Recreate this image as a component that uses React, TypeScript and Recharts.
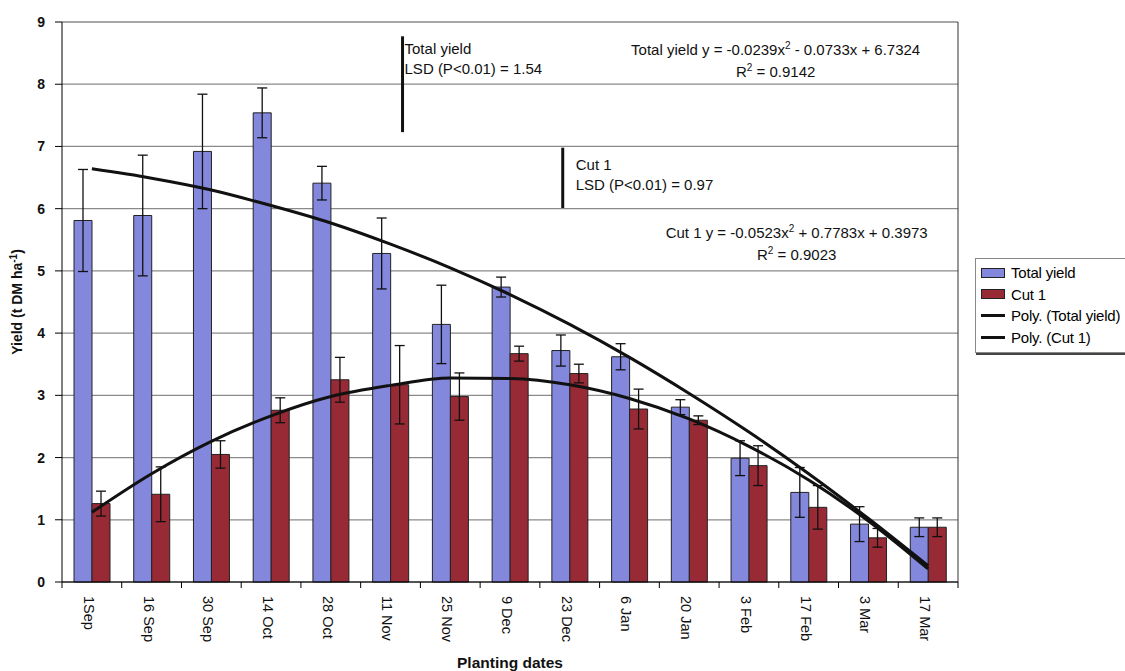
import React from 'react';
import {
  ComposedChart, Bar, Line, XAxis, YAxis, CartesianGrid, ErrorBar,
  Legend, ReferenceLine, ReferenceDot
} from 'recharts';

// planting dates and yields (t DM/ha)
const dates = ['1Sep', '16 Sep', '30 Sep', '14 Oct', '28 Oct', '11 Nov', '25 Nov', '9 Dec', '23 Dec', '6 Jan', '20 Jan', '3 Feb', '17 Feb', '3 Mar', '17 Mar'];
const totalYield = [5.81, 5.89, 6.92, 7.54, 6.41, 5.28, 4.14, 4.74, 3.72, 3.62, 2.81, 1.99, 1.44, 0.93, 0.88];
const totalErr = [0.82, 0.97, 0.92, 0.40, 0.27, 0.57, 0.63, 0.16, 0.25, 0.21, 0.12, 0.28, 0.40, 0.28, 0.15];
const cut1 = [1.26, 1.41, 2.05, 2.76, 3.25, 3.17, 2.98, 3.67, 3.35, 2.78, 2.60, 1.87, 1.20, 0.71, 0.88];
const cut1Err = [0.20, 0.44, 0.22, 0.20, 0.36, 0.63, 0.38, 0.12, 0.15, 0.32, 0.07, 0.32, 0.35, 0.15, 0.15];
// trend lines as read at each planting date
const polyTotal = [6.64, 6.49, 6.30, 6.05, 5.77, 5.43, 5.05, 4.62, 4.14, 3.61, 3.03, 2.41, 1.74, 1.02, 0.26];
const polyCut1 = [1.12, 1.74, 2.26, 2.67, 2.98, 3.16, 3.28, 3.27, 3.17, 2.95, 2.62, 2.18, 1.64, 0.98, 0.21];
const yTicks = [0, 1, 2, 3, 4, 5, 6, 7, 8, 9];
const legendItems = [
  { label: 'Total yield', kind: 'bar', color: '#8388DC' },
  { label: 'Cut 1', kind: 'bar', color: '#982A35' },
  { label: 'Poly. (Total yield)', kind: 'line', color: '#111' },
  { label: 'Poly. (Cut 1)', kind: 'line', color: '#111' },
];

const FONT = 'Arial, "Liberation Sans", sans-serif';
const HALF_BAND = 29.87;

const rows = dates.map((d, i) => ({
  date: d,
  total: totalYield[i],
  totalErr: totalErr[i],
  cut: cut1[i],
  cutErr: cut1Err[i],
  polyTotal: polyTotal[i],
  polyCut: polyCut1[i],
}));

const DateTick = (props: any) => {
  const { x, y, payload, index } = props;
  return (
    <g>
      <line x1={x - HALF_BAND} y1={y} x2={x - HALF_BAND} y2={y + 6} stroke="#000" />
      {index === dates.length - 1 && (
        <line x1={x + HALF_BAND} y1={y} x2={x + HALF_BAND} y2={y + 6} stroke="#000" />
      )}
      <text x={x - 3} y={y + 14} transform={`rotate(90 ${x - 3} ${y + 14})`} dy="0.35em"
        textAnchor="start" fontSize={14.5} fontFamily={FONT} fill="#111">
        {payload.value}
      </text>
    </g>
  );
};

const YTitle = (props: any) => {
  const vb = props.viewBox || {};
  const cx = vb.x + 22;
  const cy = vb.y + vb.height / 2;
  return (
    <text x={cx} y={cy} transform={`rotate(-90 ${cx} ${cy})`} textAnchor="middle"
      fontSize={14} fontWeight="bold" fontFamily={FONT} fill="#111">
      Yield (t DM ha<tspan dy={-5} fontSize={10}>-1</tspan><tspan dy={5}>)</tspan>
    </text>
  );
};

const XTitle = (props: any) => {
  const vb = props.viewBox || {};
  return (
    <text x={vb.x + vb.width / 2} y={vb.y + vb.height - 3} textAnchor="middle"
      fontSize={15.5} fontWeight="bold" fontFamily={FONT} fill="#111">
      Planting dates
    </text>
  );
};

// vertical line shifted sideways inside its category band
const shiftedLine = (dx: number, stroke: string, width: number) => (p: any) => (
  <line x1={p.x1 + dx} y1={p.y1} x2={p.x2 + dx} y2={p.y2} stroke={stroke} strokeWidth={width} />
);

const lsdLabel = (title: string, text: string, dx: number, dy: number) => (props: any) => {
  const vb = props.viewBox || {};
  return (
    <g fontSize={15} fontFamily={FONT} fill="#111">
      <text x={vb.x + dx} y={vb.y + dy}>{title}</text>
      <text x={vb.x + dx} y={vb.y + dy + 20}>{text}</text>
    </g>
  );
};

const eqLabel = (name: string, a: string, rest: string, r2: string, dx: number) => (props: any) => {
  const vb = props.viewBox || {};
  const cx = vb.x + (vb.width || 0) / 2 + dx;
  const cy = vb.y + (vb.height || 0) / 2;
  return (
    <g fontSize={15} fontFamily={FONT} fill="#111" textAnchor="middle">
      <text x={cx} y={cy}>
        {name} y = {a}x<tspan dy={-6} fontSize={10}>2</tspan><tspan dy={6}>{rest}</tspan>
      </text>
      <text x={cx} y={cy + 22}>
        R<tspan dy={-6} fontSize={10}>2</tspan><tspan dy={6}> = {r2}</tspan>
      </text>
    </g>
  );
};

const LegendBox = () => (
  <div style={{
    background: '#fff', border: '1px solid #888', boxShadow: '1px 2px 0 #444',
    padding: '3px 0 4px 5px', width: 160, fontFamily: FONT, fontSize: 15, color: '#000',
  }}>
    {legendItems.map(item => (
      <div key={item.label} style={{ display: 'flex', alignItems: 'center', height: 21.5 }}>
        {item.kind === 'bar' ? (
          <span style={{ width: 24, height: 10, background: item.color, border: '1px solid #222', boxSizing: 'border-box' }} />
        ) : (
          <span style={{ width: 24, height: 3, background: item.color }} />
        )}
        <span style={{ marginLeft: 6, whiteSpace: 'nowrap', letterSpacing: -0.2 }}>{item.label}</span>
      </div>
    ))}
  </div>
);

const App: React.FC = () => {
  return (
    <div style={{ position: 'absolute', left: 0, top: 0, width: 1125, height: 671, overflow: 'hidden', background: '#fff' }}>
      <ComposedChart width={1125} height={671} data={rows}
        margin={{ top: 22, right: 167, left: 0, bottom: 0 }} barSize={18} barGap={0}>
        <CartesianGrid vertical={false} stroke="#8a8a8a" strokeWidth={1.3} />
        <XAxis dataKey="date" interval={0} height={89} tickLine={false} tickSize={0} tickMargin={0}
          axisLine={{ stroke: '#000' }} tick={<DateTick />} label={{ content: XTitle }} />
        <YAxis width={62} domain={[0, 9]} ticks={yTicks} interval={0} tickSize={7} tickMargin={10}
          axisLine={{ stroke: '#000' }} tickLine={{ stroke: '#000' }}
          tick={{ fontSize: 14, fontWeight: 'bold', fill: '#111', fontFamily: FONT }}
          label={{ content: YTitle }} />
        {/* right-hand border of the plot area */}
        <ReferenceLine x="17 Mar" shape={shiftedLine(HALF_BAND, '#333', 1)} />
        <Bar dataKey="total" fill="#8388DC" stroke="#222" strokeWidth={1} isAnimationActive={false}>
          <ErrorBar dataKey="totalErr" width={5} stroke="#111" strokeWidth={1.3} />
        </Bar>
        <Bar dataKey="cut" fill="#982A35" stroke="#222" strokeWidth={1} isAnimationActive={false}>
          <ErrorBar dataKey="cutErr" width={5} stroke="#111" strokeWidth={1.3} />
        </Bar>
        <Line dataKey="polyTotal" type="monotone" stroke="#111" strokeWidth={3} dot={false}
          activeDot={false} isAnimationActive={false} />
        <Line dataKey="polyCut" type="monotone" stroke="#111" strokeWidth={3} dot={false}
          activeDot={false} isAnimationActive={false} />
        <ReferenceLine segment={[{ x: '11 Nov', y: 8.77 }, { x: '11 Nov', y: 7.23 }]}
          shape={shiftedLine(12, '#111', 3)}
          label={{ content: lsdLabel('Total yield', 'LSD (P<0.01) = 1.54', 14, 18) }} />
        <ReferenceLine segment={[{ x: '23 Dec', y: 6.98 }, { x: '23 Dec', y: 6.01 }]}
          shape={shiftedLine(-7, '#111', 3)}
          label={{ content: lsdLabel('Cut 1', 'LSD (P<0.01) = 0.97', 6, 22) }} />
        <ReferenceDot x="17 Feb" y={8.47} r={0} fill="none" stroke="none"
          label={{ content: eqLabel('Total yield', '-0.0239', ' - 0.0733x + 6.7324', '0.9142', -33) }} />
        <ReferenceDot x="17 Feb" y={5.53} r={0} fill="none" stroke="none"
          label={{ content: eqLabel('Cut 1', '-0.0523', ' + 0.7783x + 0.3973', '0.9023', -12) }} />
        <Legend layout="vertical" align="center" verticalAlign="middle" content={<LegendBox />}
          wrapperStyle={{ left: 975, top: 258, width: 160 }} />
      </ComposedChart>
    </div>
  );
};

export default App;
